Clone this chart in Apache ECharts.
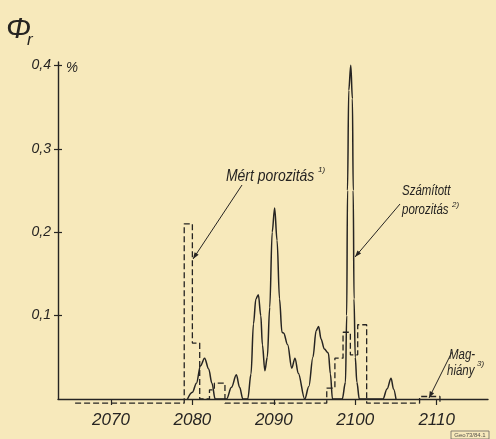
<!DOCTYPE html>
<html>
<head>
<meta charset="utf-8">
<script src="https://cdn.jsdelivr.net/npm/echarts@6/dist/echarts.min.js"></script>
<style>
  html, body { margin: 0; padding: 0; background: #f7e9bb; }
  #chart { width: 496px; height: 439px; }
</style>
</head>
<body>
<div id="chart"></div>
<script>
// Számított porozitás (solid curve), depth in m, porosity in %
const calcDepth = [
  2079.4, 2080.0, 2080.5, 2081.0, 2081.5, 2082.0, 2082.4, 2082.8,
  2084.2, 2084.8, 2085.4, 2085.8, 2086.2,
  2086.8, 2087.2, 2087.5, 2087.8, 2088.1, 2088.4, 2088.6, 2088.9,
  2089.2, 2089.5, 2089.8, 2090.1, 2090.4, 2090.7, 2091.0, 2091.2,
  2091.7, 2092.2, 2092.6, 2093.0, 2093.8,
  2094.3, 2094.8, 2095.2, 2095.5, 2095.8, 2096.2, 2096.7, 2096.95, 2097.2,
  2098.4, 2098.8, 2098.95, 2099.05, 2099.2, 2099.45, 2099.65, 2099.75,
  2099.85, 2100.0, 2100.2, 2100.5,
  2103.4, 2103.9, 2104.4, 2104.7, 2105.0
];
const calcPorosity = [
  0, 0.008, 0.019, 0.04, 0.049, 0.036, 0.019, 0,
  0, 0.014, 0.029, 0.014, 0,
  0, 0.03, 0.09, 0.12, 0.125, 0.1, 0.065, 0.034,
  0.05, 0.11, 0.2, 0.229, 0.19, 0.12, 0.08, 0.079,
  0.065, 0.037, 0.049, 0.031, 0,
  0.015, 0.05, 0.082, 0.087, 0.072, 0.06, 0.055, 0.03, 0,
  0, 0.02, 0.1, 0.25, 0.37, 0.4, 0.36, 0.25,
  0.12, 0.05, 0.02, 0,
  0, 0.012, 0.025, 0.012, 0
];

// Mért porozitás (dashed steps): value holds from each depth to the next
const measDepth = [
  2065.6, 2079.0, 2080.0, 2080.9, 2082.1, 2082.7, 2084.0,
  2096.5, 2097.5, 2098.5, 2099.4, 2100.3, 2101.4,
  2107.9, 2110.4
];
const measPorosity = [
  -0.005, 0.21, 0.067, 0, 0.011, 0.019, -0.005,
  0.013, 0.049, 0.08, 0.053, 0.089, -0.005,
  0.003, -0.005
];

const depthTicks = [2070, 2080, 2090, 2100, 2110];
const porosityTicks = [0.1, 0.2, 0.3, 0.4];

const ink = "#262422";
const labelFont = "'Liberation Sans', Arial, sans-serif";

const chart = echarts.init(document.getElementById("chart"), null, { renderer: "canvas" });

// hand-lettered notes are narrow, so squeeze them a bit
const noteText = (x, y, text, size, squeeze) => ({
  type: "text",
  x: x,
  y: y,
  scaleX: squeeze || 0.82,
  style: {
    text: text,
    fill: ink,
    font: "italic " + size + "px " + labelFont,
    textVerticalAlign: "middle"
  }
});

const leader = (x1, y1, x2, y2) => {
  const angle = Math.atan2(y2 - y1, x2 - x1);
  const len = 7;
  const spread = 0.35;
  return [
    {
      type: "line",
      shape: { x1: x1, y1: y1, x2: x2, y2: y2 },
      style: { stroke: ink, lineWidth: 1 }
    },
    {
      type: "polygon",
      shape: {
        points: [
          [x2, y2],
          [x2 - len * Math.cos(angle - spread), y2 - len * Math.sin(angle - spread)],
          [x2 - len * Math.cos(angle + spread), y2 - len * Math.sin(angle + spread)]
        ]
      },
      style: { fill: ink }
    }
  ];
};

chart.setOption({
  animation: false,
  backgroundColor: "#f7e9bb",
  grid: { left: 58, right: 8, top: 62, bottom: 40 },
  xAxis: {
    type: "value",
    min: 2063.5,
    max: 2116.3,
    axisLine: { lineStyle: { color: ink, width: 1.4 } },
    axisTick: {
      customValues: depthTicks,
      length: 6,
      lineStyle: { color: ink, width: 1.2 }
    },
    axisLabel: {
      customValues: depthTicks,
      color: ink,
      fontFamily: labelFont,
      fontStyle: "italic",
      fontSize: 17,
      margin: 13,
      formatter: (v) => String(v)
    },
    splitLine: { show: false }
  },
  yAxis: [
    {
      type: "value",
      min: 0,
      max: 0.404,
      axisLine: { show: true, lineStyle: { color: ink, width: 1.4 } },
      axisTick: {
        customValues: porosityTicks,
        length: 4,
        lineStyle: { color: ink, width: 1.2 }
      },
      axisLabel: {
        customValues: porosityTicks,
        color: ink,
        fontFamily: labelFont,
        fontStyle: "italic",
        fontSize: 14,
        margin: 7,
        formatter: (v) => String(v).replace(".", ",")
      },
      splitLine: { show: false }
    },
    {
      type: "value",
      position: "left",
      min: 0,
      max: 0.404,
      axisLine: { show: false },
      axisTick: {
        show: true,
        inside: true,
        customValues: porosityTicks,
        length: 4,
        lineStyle: { color: ink, width: 1.2 }
      },
      axisLabel: { show: false },
      splitLine: { show: false }
    }
  ],
  series: [
    {
      name: "Mért porozitás",
      type: "line",
      step: "end",
      clip: false,
      showSymbol: false,
      data: measDepth.map((d, i) => [d, measPorosity[i]]),
      lineStyle: { color: ink, width: 1.3, type: [6, 3] },
      z: 2
    },
    {
      name: "Számított porozitás",
      type: "line",
      smooth: 0.35,
      smoothMonotone: "x",
      showSymbol: false,
      data: calcDepth.map((d, i) => [d, calcPorosity[i]]),
      lineStyle: { color: ink, width: 1.5 },
      z: 3
    }
  ],
  graphic: [
    noteText(6, 30, "Φ", 30, 1),
    noteText(27, 40, "r", 17, 1),
    noteText(66, 68, "%", 15, 0.9),
    noteText(226, 176, "Mért porozitás", 17),
    noteText(318, 170, "1)", 8, 1),
    ...leader(242, 185, 193, 259),
    noteText(402, 191, "Számított", 14),
    noteText(402, 210, "porozitás", 14),
    noteText(452, 205, "2)", 8, 1),
    ...leader(400, 204, 355, 257),
    noteText(449, 355, "Mag-", 14),
    noteText(447, 371, "hiány", 14),
    noteText(477, 364, "3)", 8, 1),
    ...leader(452, 352, 429, 398),
    {
      type: "rect",
      shape: { x: 451, y: 431, width: 38, height: 8 },
      style: { fill: "none", stroke: "#6a6660", lineWidth: 0.8 }
    },
    {
      type: "text",
      x: 470,
      y: 435,
      style: {
        text: "Geo73/84.1",
        fill: "#55514c",
        font: "6px " + labelFont,
        textAlign: "center",
        textVerticalAlign: "middle"
      }
    }
  ]
});
</script>
</body>
</html>
